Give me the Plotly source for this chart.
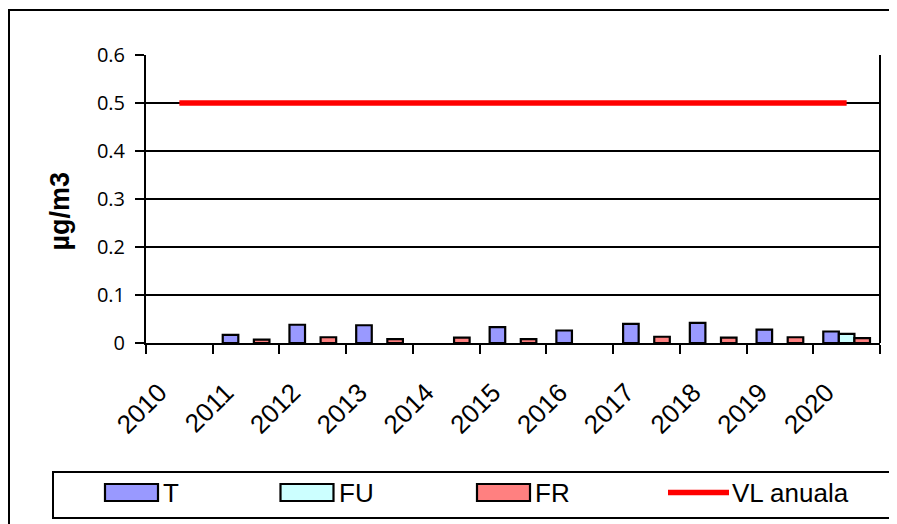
import plotly.graph_objects as go

years = ["2010", "2011", "2012", "2013", "2014", "2015", "2016", "2017", "2018", "2019", "2020"]
T_vals = [None, 0.017, 0.038, 0.037, None, 0.033, 0.026, 0.040, 0.042, 0.028, 0.024]
FU_vals = [None, None, None, None, None, None, None, None, None, None, 0.019]
FR_vals = [None, 0.007, 0.012, 0.008, 0.011, 0.008, None, 0.013, 0.011, 0.012, 0.010]
VL_vals = [0.5] * 11
series_names = ["T", "FU", "FR", "VL anuala"]
colors = ["#9999FF", "#CCFFFF", "#FF8080", "#FF0000"]

# page body has an 8px margin; work in screen coordinates and convert
OFF = 8
W, H = 897 - OFF, 524 - OFF
L, R, T, B = 146 - OFF, W - (880 - OFF), 55 - OFF, H - (343 - OFF)
PW, PH = W - L - R, H - T - B

def px(x):
    return (x - OFF - L) / PW

def py(y):
    return (H - B - (y - OFF)) / PH

fig = go.Figure()
for name, vals, col in zip(series_names[:3], [T_vals, FU_vals, FR_vals], colors[:3]):
    fig.add_trace(go.Bar(x=years, y=vals, name=name, marker_color=col,
                         marker_line_color="black", marker_line_width=2.2,
                         showlegend=False))
fig.add_trace(go.Scatter(x=years, y=VL_vals, name=series_names[3], mode="lines",
                         line=dict(color=colors[3], width=5.5), showlegend=False))

shapes = []
# outer chart border
shapes.append(dict(type="rect", xref="paper", yref="paper",
                   x0=px(9), x1=px(896), y0=py(540), y1=py(10),
                   line=dict(color="black", width=2), fillcolor="rgba(0,0,0,0)", layer="below"))
# plot area right border
shapes.append(dict(type="line", xref="paper", yref="paper", x0=1, x1=1, y0=0, y1=1,
                   line=dict(color="black", width=2)))
# legend box
shapes.append(dict(type="rect", xref="paper", yref="paper",
                   x0=px(53), x1=px(905), y0=py(518), y1=py(472),
                   line=dict(color="black", width=2), fillcolor="white"))
annotations = []
swatch_x = [105, 280.5, 477, 668]
for i, name in enumerate(series_names):
    x0 = swatch_x[i]
    if i < 3:
        shapes.append(dict(type="rect", xref="paper", yref="paper",
                           x0=px(x0), x1=px(x0 + 53), y0=py(501), y1=py(484),
                           line=dict(color="black", width=2.2), fillcolor=colors[i]))
        tx = x0 + 56
    else:
        shapes.append(dict(type="line", xref="paper", yref="paper",
                           x0=px(x0), x1=px(x0 + 61), y0=py(492.5), y1=py(492.5),
                           line=dict(color=colors[i], width=5.5)))
        tx = x0 + 62
    annotations.append(dict(text=name, xref="paper", yref="paper", x=px(tx), y=py(493),
                            xanchor="left", yanchor="middle", showarrow=False,
                            font=dict(family="Liberation Sans, Arial", size=26, color="black")))
# y axis title
annotations.append(dict(text="<b>µg/m3</b>", xref="paper", yref="paper", x=px(59.5), y=py(211),
                        xanchor="center", yanchor="middle", textangle=-90, showarrow=False,
                        font=dict(family="Liberation Sans, Arial", size=27, color="black")))

fig.update_layout(
    width=W, height=H,
    margin=dict(l=L, r=R, t=T, b=B),
    paper_bgcolor="white", plot_bgcolor="white",
    barmode="group", bargap=0.3, bargroupgap=0,
    shapes=shapes, annotations=annotations,
    showlegend=False,
    xaxis=dict(type="category", tickangle=-45, tickson="boundaries", ticks="outside",
               ticklen=9, tickwidth=2, tickcolor="black", showline=True, linecolor="black",
               linewidth=2, showgrid=False, ticklabelstandoff=22, ticklabelshift=-20,
               tickfont=dict(family="Liberation Sans, Arial", size=26, color="black")),
    yaxis=dict(range=[0, 0.6], dtick=0.1, ticks="outside", ticklen=9, tickwidth=2,
               tickcolor="black", showline=True, linecolor="black", linewidth=2,
               showgrid=True, gridcolor="black", gridwidth=1.5, zeroline=False,
               ticklabelstandoff=6,
               tickfont=dict(family="Open Sans", size=20, color="black")),
)

fig.write_html("out.html")
